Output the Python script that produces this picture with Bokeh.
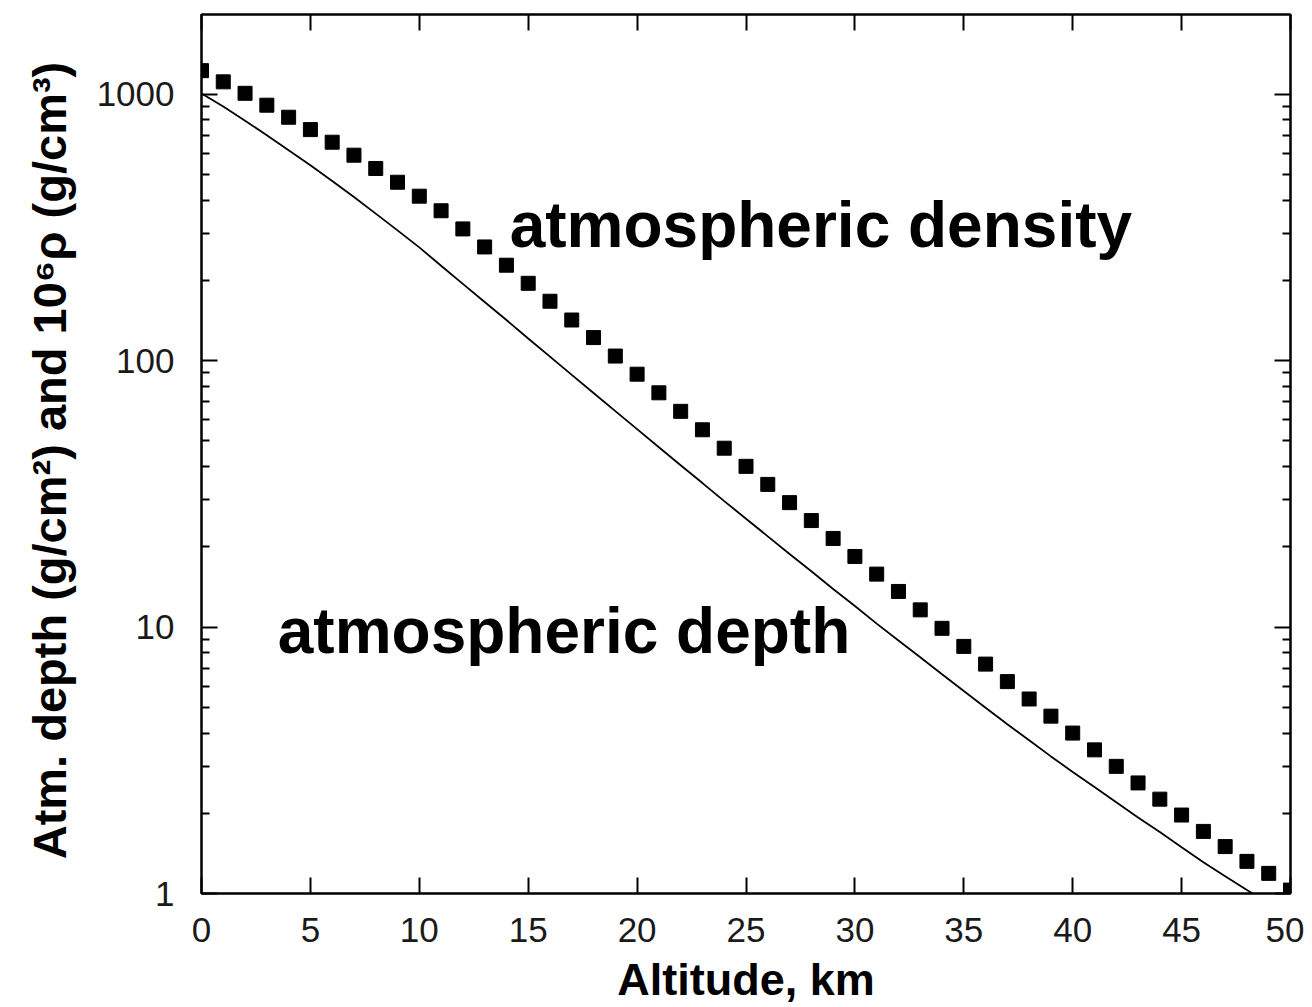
from bokeh.plotting import figure
from bokeh.models import (Range1d, LogAxis, LinearAxis, FixedTicker, Label,
                          PrintfTickFormatter, CustomJSTickFormatter)
from bokeh.embed import file_html
from bokeh.resources import INLINE

# ---- data ----
altitude_km = list(range(51))
density_x1e6 = [1225, 1112, 1007, 909, 819, 736, 660, 590, 526, 467,
                414, 365, 312, 267, 228, 195, 167, 142, 122, 104,
                88.9, 75.7, 64.5, 55.0, 46.9, 40.1, 34.3, 29.3, 25.1, 21.5,
                18.4, 15.8, 13.6, 11.6, 9.89, 8.46, 7.26, 6.24, 5.37, 4.63,
                4.00, 3.46, 3.00, 2.60, 2.26, 1.97, 1.71, 1.50, 1.32, 1.19,
                1.03]
depth_alt_km = list(range(51))
depth_g_cm2 = [1005, 898, 795, 701, 616, 541, 472, 411, 356, 308,
               266, 227, 194, 166, 142, 121, 103.5, 88.4, 75.6, 64.6,
               55.3, 47.3, 40.5, 34.7, 29.7, 25.5, 21.9, 18.8, 16.2, 13.9,
               12.0, 10.3, 8.9, 7.7, 6.65, 5.75, 4.98, 4.32, 3.76, 3.27,
               2.86, 2.51, 2.20, 1.93, 1.70, 1.49, 1.31, 1.16, 1.03, 0.92,
               0.82]
x_ticks = [0, 5, 10, 15, 20, 25, 30, 35, 40, 45, 50]
y_ticks = [1, 10, 100, 1000]
y_minor_ticks = [2, 3, 4, 5, 6, 7, 8, 9, 20, 30, 40, 50, 60, 70, 80, 90,
                 200, 300, 400, 500, 600, 700, 800, 900]

FONT = "Liberation Sans"

p = figure(width=1304, height=1007, output_backend="svg", toolbar_location=None,
           y_axis_type="log", x_range=Range1d(0, 50), y_range=Range1d(1, 1990),
           min_border_left=201, min_border_right=14, min_border_top=14,
           min_border_bottom=114, background_fill_color="white",
           border_fill_color="white")
p.grid.visible = False
p.outline_line_color = "black"
p.outline_line_width = 2

p.line(depth_alt_km, depth_g_cm2, line_color="black", line_width=1.8)
p.scatter(altitude_km, density_x1e6, marker="square", size=14,
          fill_color="black", line_color="black")

def style_axis(ax, labels=True):
    ax.axis_line_width = 2
    ax.axis_line_color = "black"
    ax.major_tick_in = 16
    ax.major_tick_out = 0
    ax.minor_tick_in = 8
    ax.minor_tick_out = 0
    ax.major_tick_line_width = 2
    ax.minor_tick_line_width = 2
    ax.major_tick_line_color = "black"
    ax.minor_tick_line_color = "black"
    if labels:
        ax.major_label_text_font = FONT
        ax.major_label_text_font_size = "35px"
        ax.major_label_text_color = "#1a1a1a"
        ax.axis_label_text_font = FONT
        ax.axis_label_text_font_style = "bold"
        ax.axis_label_text_font_size = "45px"
        ax.axis_label_text_color = "black"
    else:
        ax.formatter = CustomJSTickFormatter(code="return '';")
        ax.major_label_standoff = 0

xt = FixedTicker(ticks=x_ticks, minor_ticks=[])
yt = FixedTicker(ticks=y_ticks, minor_ticks=y_minor_ticks)

xa = p.xaxis[0]
xa.ticker = xt
style_axis(xa)
xa.major_label_standoff = 24
xa.axis_label = "Altitude, km"
xa.axis_label_standoff = 9

ya = p.yaxis[0]
ya.ticker = yt
ya.formatter = PrintfTickFormatter(format="%d")
style_axis(ya)
ya.major_label_standoff = 27
ya.axis_label = "Atm. depth (g/cm²) and  10⁶ρ (g/cm³)"
ya.axis_label_text_font_size = "47px"
ya.axis_label_standoff = 18

top = LinearAxis(ticker=xt)
style_axis(top, labels=False)
p.add_layout(top, "above")
right = LogAxis(ticker=yt)
style_axis(right, labels=False)
p.add_layout(right, "right")

p.add_layout(Label(x=14.15, y=322, text="atmospheric density", text_font=FONT,
                   text_font_style="bold", text_font_size="64px",
                   text_color="black", text_baseline="alphabetic"))
p.add_layout(Label(x=3.5, y=9.7, text="atmospheric depth", text_font=FONT,
                   text_font_style="bold", text_font_size="64px",
                   text_color="black", text_baseline="alphabetic"))

open("out.html", "w").write(file_html(p, INLINE))
